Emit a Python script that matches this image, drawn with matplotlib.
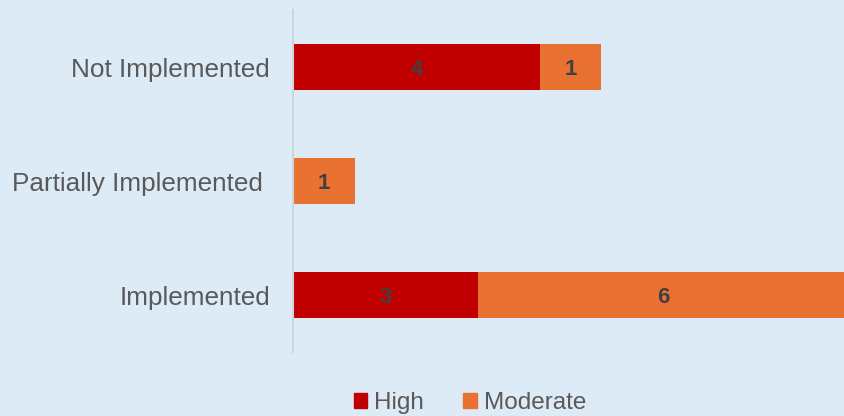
import numpy as np
import matplotlib.pyplot as plt
from matplotlib.patches import Patch

categories = ['Implemented', 'Partially Implemented ', 'Not Implemented']
high = [3, 0, 4]
moderate = [6, 1, 1]

bg = '#DDEBF7'
c_high = '#C00000'
c_mod = '#E97132'

plt.rcParams['font.family'] = ['Liberation Sans', 'DejaVu Sans']

fig = plt.figure(figsize=(8.44, 4.16), dpi=100, facecolor=bg)
ax = fig.add_axes([293 / 844, (416 - 352) / 416, 555 / 844, 342 / 416])
ax.set_facecolor(bg)

y = np.arange(len(categories))
ax.barh(y, high, height=0.4, color=c_high)
ax.barh(y, moderate, left=high, height=0.4, color=c_mod)

# value labels, skipping empty segments
for i in range(len(categories)):
    if high[i] > 0:
        ax.text(high[i] / 2, y[i], str(high[i]), ha='center', va='center_baseline',
                fontsize=16, fontweight='bold', color='#404040')
    if moderate[i] > 0:
        ax.text(high[i] + moderate[i] / 2, y[i], str(moderate[i]), ha='center',
                va='center_baseline', fontsize=16, fontweight='bold', color='#404040')

ax.set_xlim(0, 9)
ax.set_ylim(-0.5, 2.5)
ax.set_yticks(y)
ax.set_yticklabels(categories, fontsize=18.8, color='#595959')
ax.tick_params(axis='y', length=0, pad=16.5)
ax.set_xticks([])
for s in ['top', 'right', 'bottom']:
    ax.spines[s].set_visible(False)
ax.spines['left'].set_color('#D0D4D8')
ax.spines['left'].set_linewidth(1.5)

handles = [Patch(color=c_high, label='High'), Patch(color=c_mod, label='Moderate')]
fig.legend(handles=handles, loc='center', bbox_to_anchor=(470 / 844, 1 - 403 / 416),
           ncol=2, frameon=False, fontsize=17.5, labelcolor='#595959',
           handlelength=0.55, handleheight=0.55, handletextpad=0.3, columnspacing=1.6)

fig.savefig('out.png', dpi=100, facecolor=bg)
